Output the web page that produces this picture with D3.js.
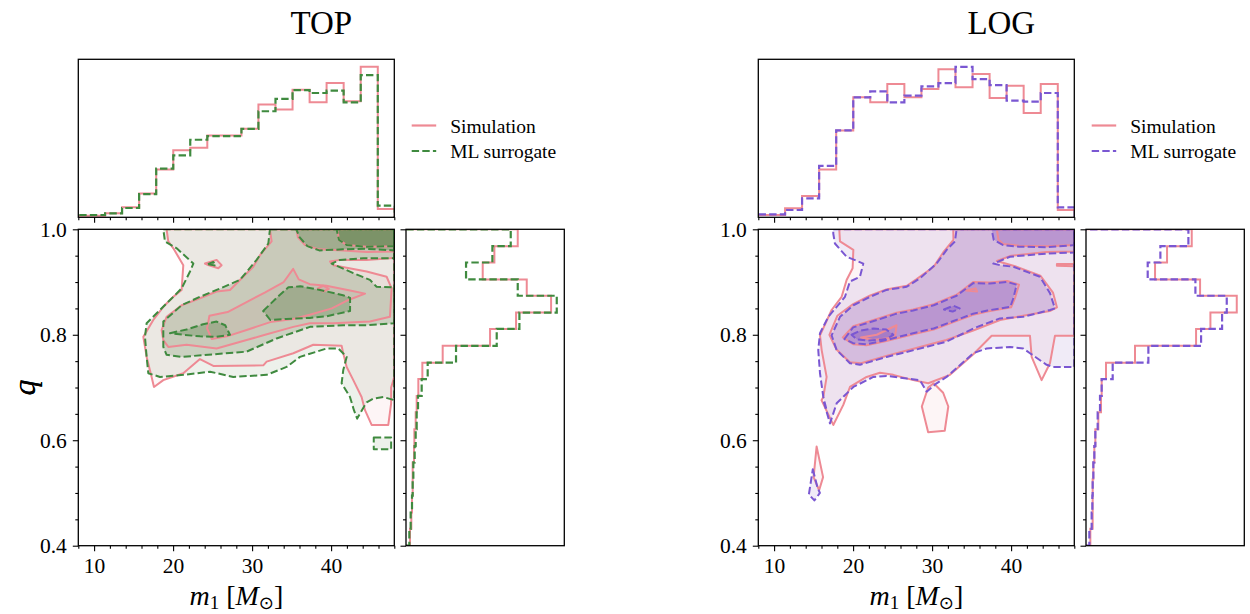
<!DOCTYPE html>
<html>
<head>
<meta charset="utf-8">
<script src="https://cdn.jsdelivr.net/npm/d3@7"></script>
<style>
  body { margin: 0; background: #fff; }
  svg { display: block; }
  text { font-family: "Liberation Serif", "Times New Roman", serif; fill: #000; }
</style>
</head>
<body>
<svg id="fig" width="1250" height="614"></svg>
<script>
// ---- binning ----
const m1Edges = [7.07, 9.23, 11.39, 13.54, 15.70, 17.86, 20.02, 22.17, 24.33, 26.49,
                 28.65, 30.80, 32.96, 35.12, 37.28, 39.43, 41.59, 43.75, 45.91, 48.06];
const qEdges = [0.400, 0.432, 0.463, 0.495, 0.526, 0.558, 0.589, 0.621, 0.653, 0.684,
                0.716, 0.747, 0.779, 0.811, 0.842, 0.874, 0.905, 0.937, 0.968, 1.000];

// ---- marginal histograms (counts per bin) ----
const topSimM1 = [5, 5, 12, 30, 72, 144, 202, 210, 247, 247, 267, 340, 325, 385, 347, 405, 350, 454, 25];
const topMlM1  = [7, 7, 12, 28, 70, 147, 187, 234, 245, 245, 267, 320, 357, 384, 375, 382, 347, 429, 35];
const topSimQ  = [12, 16, 18, 20, 20, 24, 25, 29, 32, 37, 49, 110, 252, 330, 435, 362, 230, 265, 335];
const topMlQ   = [10, 14, 18, 20, 22, 26, 29, 32, 36, 47, 65, 150, 272, 340, 452, 335, 180, 259, 314];

const logSimM1 = [7, 7, 27, 64, 144, 262, 362, 347, 402, 362, 387, 447, 392, 432, 360, 397, 315, 402, 22];
const logMlM1  = [9, 9, 22, 57, 155, 262, 362, 380, 347, 367, 395, 405, 454, 417, 399, 352, 349, 375, 30];
const logSimQ  = [13, 20, 20, 20, 22, 25, 28, 37, 45, 47, 60, 147, 330, 373, 452, 342, 207, 243, 317];
const logMlQ   = [10, 17, 19, 20, 22, 25, 28, 35, 42, 47, 80, 187, 345, 408, 422, 328, 185, 223, 307];

// ---- axis ticks ----
const m1Major = [10, 20, 30, 40];
const m1Minor = [8, 12, 14, 16, 18, 22, 24, 26, 28, 32, 34, 36, 38, 42, 44, 46, 48];
const qMajor = [0.4, 0.6, 0.8, 1.0];
const qMinor = [0.45, 0.5, 0.55, 0.65, 0.7, 0.75, 0.85, 0.9, 0.95];

// ---- joint density contours: [m1, q] vertices, one list of regions per level ----
const topSimLevels = [
  [
    [[19.18,1],[48,1],[48,0.72],[47.6,0.70],[47.6,0.67],[47.24,0.629],[45.13,0.629],[44.29,0.657],[43.86,0.682],
     [42.81,0.714],[41.97,0.739],[41.54,0.765],[41.33,0.779],[37.75,0.781],[35.22,0.765],[31.84,0.749],[31.42,0.742],
     [25.09,0.741],[23.40,0.754],[21.29,0.727],[18.76,0.714],[17.58,0.701],[17.28,0.720],[16.65,0.758],[16.23,0.796],
     [17.49,0.828],[18.76,0.853],[20.03,0.872],[21.08,0.885],[21.29,0.932],[20.03,0.964],[19.39,0.977]]
  ],
  [
    [[32.26,1],[48,1],[48,0.946],[47.45,0.945],[44.5,0.942],[41.12,0.942],[39.86,0.939],[40.28,0.932],[44.5,0.920],
     [47.03,0.910],[47.66,0.888],[47.45,0.834],[44.92,0.825],[40.28,0.822],[37.32,0.822],[35.22,0.815],[31.42,0.799],
     [29.31,0.790],[25.51,0.774],[21.71,0.781],[19.39,0.777],[18.76,0.790],[18.55,0.809],[19.18,0.834],[21.08,0.856],
     [23.40,0.869],[25.51,0.882],[27.2,0.885],[28.46,0.904],[30.15,0.929],[31.0,0.951],[32.47,0.977]],
    [[24.03,0.935],[25.51,0.942],[26.14,0.932],[25.72,0.926],[24.45,0.932]]
  ],
  [
    [[24.6,0.836],[26.9,0.843],[29.3,0.862],[31.6,0.880],[34.0,0.900],[35.2,0.925],[35.9,0.905],[37.3,0.896],[39.4,0.893],
     [42.4,0.884],[44.3,0.878],[42.2,0.866],[40.1,0.850],[37.3,0.838],[35.2,0.830],[32.3,0.824],[29.5,0.810],[26.8,0.797],
     [24.9,0.792],[24.3,0.812]],
    [[35.6,1],[48,1],[48,0.958],[44.5,0.957],[41.5,0.960],[38.5,0.962],[36.7,0.970],[35.8,0.985]]
  ],
  [
    [[38.3,0.888],[39.0,0.893],[39.7,0.887],[39.0,0.882]],
    [[40.8,1],[48,1],[48,0.968],[44.5,0.967],[42,0.970],[41.0,0.98]]
  ]
];

const topMlLevels = [
  [
    [[18.76,1],[48,1],[48,0.676],[46.61,0.682],[45.34,0.679],[44.5,0.672],[43.9,0.657],[43.3,0.641],[42.89,0.657],
     [42.39,0.682],[41.33,0.708],[41.54,0.733],[41.97,0.758],[40.91,0.774],[39.43,0.774],[36.06,0.758],[34.37,0.739],
     [31.84,0.724],[27.62,0.720],[24.67,0.730],[21.29,0.724],[18.34,0.720],[16.86,0.727],[16.65,0.758],[16.44,0.796],
     [16.65,0.822],[18.34,0.847],[20.03,0.872],[21.08,0.888],[22.14,0.920],[22.56,0.935],[20.45,0.964],[18.97,0.977]],
    [[45.4,0.605],[47.6,0.605],[47.6,0.583],[45.4,0.583]]
  ],
  [
    [[32.26,1],[48,1],[48,0.945],[44.08,0.945],[41.12,0.942],[40.07,0.935],[42.81,0.917],[44.92,0.904],[45.76,0.891],
     [48,0.890],[48,0.822],[44.5,0.818],[41.54,0.818],[37.32,0.815],[33.1,0.793],[29.31,0.768],[21.03,0.758],
     [19.18,0.762],[18.76,0.777],[18.76,0.825],[21.08,0.856],[23.40,0.872],[25.51,0.885],[28.46,0.904],[30.57,0.942],
     [32.05,0.973]],
    [[24.4,0.934],[25.1,0.938],[25.4,0.931]]
  ],
  [
    [[19.6,0.803],[21.7,0.81],[23.8,0.82],[25.5,0.825],[26.6,0.818],[27.2,0.80],[25.5,0.796],[23.4,0.797],[21.3,0.80]],
    [[31.4,0.845],[33.1,0.87],[34.6,0.89],[36.1,0.892],[38.6,0.885],[41.5,0.875],[42.4,0.87],[42.4,0.845],[39.4,0.835],
     [37.3,0.832],[34.3,0.83],[32.3,0.828]],
    [[35.6,1],[48,1],[48,0.96],[44.5,0.963],[41.5,0.962],[38.5,0.96],[37,0.968],[36,0.985]]
  ],
  [
    [[40.7,1],[48,1],[48,0.968],[44.5,0.967],[42,0.97],[41,0.98]]
  ]
];

const logSimLevels = [
  [
    [[18.25,1],[48,1],[48,0.798],[45.55,0.798],[44.92,0.746],[43.86,0.714],[42.6,0.758],[42.39,0.798],[37.54,0.798],
     [35.22,0.763],[32.26,0.724],[29.52,0.708],[27.62,0.714],[25.09,0.724],[23.40,0.728],[21.71,0.720],[19.6,0.701],
     [18.76,0.667],[17.49,0.629],[16.0,0.676],[16.23,0.682],[16.65,0.720],[16.02,0.771],[15.81,0.799],[17.28,0.847],
     [18.55,0.872],[19.18,0.904],[19.94,0.926],[20.03,0.961],[18.34,0.977]],
    [[28.7,0.664],[29.5,0.70],[30.2,0.708],[31.4,0.69],[32.05,0.664],[31.6,0.618],[29.5,0.615]],
    [[15.38,0.588],[16.2,0.53],[15.7,0.505],[15.0,0.53]]
  ],
  [
    [[32.68,1],[48,1],[48,0.958],[44.5,0.957],[40,0.95],[38.2,0.94],[40.5,0.93],[43.7,0.912],[45.3,0.88],[45.8,0.852],
     [44.9,0.845],[41.5,0.836],[38.6,0.828],[35.2,0.808],[31.8,0.79],[29.3,0.78],[24.2,0.76],[21.0,0.746],[19.6,0.748],
     [17.9,0.772],[17.0,0.80],[18.0,0.836],[20.0,0.858],[22.1,0.874],[24.2,0.886],[26.8,0.893],[28.0,0.905],[30.2,0.929],
     [31.4,0.956],[32.7,0.98]],
    [[45.8,0.934],[48,0.934],[48,0.930],[45.8,0.931]]
  ],
  [
    [[18.7,0.795],[20,0.816],[22.6,0.828],[25.5,0.842],[27.6,0.848],[30.2,0.858],[33.1,0.876],[35.2,0.900],[37.3,0.899],
     [39.5,0.902],[41.0,0.895],[40.5,0.87],[40.0,0.852],[37.0,0.844],[35.2,0.838],[32.7,0.824],[30.2,0.810],[27.6,0.801],
     [24.2,0.788],[21.7,0.780],[20.0,0.782]],
    [[38.2,1],[48,1],[48,0.970],[44.5,0.968],[41,0.969],[39,0.972],[38.4,0.98]]
  ],
  [
    [[21.0,0.795],[23.0,0.800],[25.5,0.818],[25.3,0.795],[22.5,0.790]],
    [[34.3,0.884],[35.5,0.888],[35.7,0.882]]
  ]
];

const logMlLevels = [
  [
    [[17.49,1],[48,1],[48,0.739],[45.34,0.739],[44.5,0.743],[42.39,0.765],[41.54,0.774],[39.86,0.777],[36.9,0.774],
     [35.22,0.765],[31.84,0.720],[30.57,0.708],[29.31,0.692],[28.46,0.714],[26.78,0.717],[24.24,0.722],[22.56,0.720],
     [20.03,0.701],[17.92,0.670],[17.07,0.632],[16.23,0.676],[16.65,0.657],[16.23,0.682],[15.81,0.727],[15.59,0.771],
     [15.81,0.803],[16.86,0.834],[17.92,0.853],[18.97,0.872],[19.6,0.901],[20.87,0.910],[21.29,0.935],[19.18,0.948],
     [17.7,0.973],[17.49,0.992]],
    [[14.9,0.545],[15.5,0.51],[15.8,0.50],[15.1,0.486],[14.4,0.497]]
  ],
  [
    [[33.1,1],[48,1],[48,0.956],[44.5,0.954],[39.86,0.948],[37.75,0.935],[38.59,0.932],[40.28,0.929],[43.65,0.910],
     [44.92,0.879],[45.55,0.850],[44.92,0.847],[41.54,0.834],[38.59,0.831],[35.22,0.812],[31.84,0.787],[29.31,0.777],
     [24.24,0.758],[20.87,0.743],[19.6,0.746],[17.92,0.771],[17.28,0.799],[18.34,0.834],[20.03,0.856],[22.14,0.872],
     [24.24,0.885],[26.78,0.891],[28.46,0.907],[30.57,0.935],[31.84,0.961],[32.89,0.977]]
  ],
  [
    [[18.9,0.792],[20,0.814],[22.6,0.826],[25.5,0.84],[27.6,0.846],[30.2,0.856],[33.1,0.874],[35.2,0.898],[37.3,0.897],
     [39.5,0.900],[40.7,0.895],[40.3,0.87],[39.9,0.853],[37.0,0.846],[35.2,0.840],[32.7,0.826],[30.2,0.812],[27.6,0.803],
     [24.2,0.790],[21.7,0.782],[20.0,0.784]],
    [[37.54,1],[48,1],[48,0.970],[44.5,0.966],[41,0.967],[39,0.97],[37.8,0.98]]
  ],
  [
    [[19.8,0.80],[20.9,0.808],[22.6,0.812],[24.2,0.81],[25.1,0.80],[24.2,0.792],[22.1,0.789],[20.5,0.791]],
    [[31.5,0.848],[32.7,0.855],[33.5,0.85],[32.6,0.844]]
  ]
];

// ---- styling ----
const simColor = "#ee8a94";
const simFill = "#e8909c";
const simOpacity = [0.09, 0.10, 0.12, 0.15];
const panels = [
  { title: "TOP", dx: 0, mlColor: "#3f8a3f", mlFill: "#4a7a3a", mlOpacity: [0.10, 0.20, 0.30, 0.42],
    simM1: topSimM1, mlM1: topMlM1, simQ: topSimQ, mlQ: topMlQ,
    simLevels: topSimLevels, mlLevels: topMlLevels },
  { title: "LOG", dx: 680, mlColor: "#7a57d2", mlFill: "#8658c0", mlOpacity: [0.12, 0.22, 0.32, 0.36],
    simM1: logSimM1, mlM1: logMlM1, simQ: logSimQ, mlQ: logMlQ,
    simLevels: logSimLevels, mlLevels: logMlLevels }
];

const svg = d3.select("#fig");
const dash = "7.4,3.2";

panels.forEach((p, pi) => {
  const g = svg.append("g");
  const x = d3.scaleLinear().domain([8, 48]).range([78.3 + p.dx, 394.3 + p.dx]);
  const y = d3.scaleLinear().domain([0.4, 1.0]).range([545.7, 229.3]);
  const hTopMax = d3.max(p.simM1.concat(p.mlM1)) * 1.05;
  const yTop = d3.scaleLinear().domain([0, hTopMax]).range([217.3, 59.3]);
  const hRightMax = d3.max(p.simQ.concat(p.mlQ)) * 1.05;
  const xRight = d3.scaleLinear().domain([0, hRightMax]).range([406 + p.dx, 564.3 + p.dx]);

  const defs = g.append("defs");
  const clip = (id, x0, y0, x1, y1) => {
    defs.append("clipPath").attr("id", id).append("rect")
      .attr("x", x0).attr("y", y0).attr("width", x1 - x0).attr("height", y1 - y0);
    return `url(#${id})`;
  };
  const clipMain = clip("cm" + pi, x.range()[0], y.range()[1], x.range()[1], y.range()[0]);
  const clipTop = clip("ct" + pi, x.range()[0], yTop.range()[1] - 2, x.range()[1], yTop.range()[0]);
  const clipRight = clip("cr" + pi, xRight.range()[0], y.range()[1], xRight.range()[1] + 2, y.range()[0]);

  // ---- joint contours ----
  const line = d3.line().x(d => x(d[0])).y(d => y(d[1])).curve(d3.curveLinearClosed);
  const cg = g.append("g").attr("clip-path", clipMain);
  const fillLevels = (levels, color, ops) => {
    levels.forEach((regs, li) => regs.forEach(r => {
      cg.append("path").attr("d", line(r)).attr("fill", color).attr("fill-opacity", ops[li]).attr("stroke", "none");
    }));
  };
  const strokeLevels = (levels, color, dashed) => {
    levels.forEach(regs => regs.forEach(r => {
      cg.append("path").attr("d", line(r)).attr("fill", "none").attr("stroke", color)
        .attr("stroke-width", 2).attr("stroke-linejoin", "round")
        .attr("stroke-dasharray", dashed ? dash : null);
    }));
  };
  fillLevels(p.simLevels, simFill, simOpacity);
  fillLevels(p.mlLevels, p.mlFill, p.mlOpacity);
  strokeLevels(p.simLevels, simColor, false);
  strokeLevels(p.mlLevels, p.mlColor, true);

  // ---- top marginal (m1) ----
  const stepTop = vals => {
    const pts = [[m1Edges[0], 0]];
    vals.forEach((v, i) => { pts.push([m1Edges[i], v]); pts.push([m1Edges[i + 1], v]); });
    pts.push([m1Edges[m1Edges.length - 1], 0]);
    return d3.line().x(d => x(d[0])).y(d => yTop(d[1]))(pts);
  };
  const tg = g.append("g").attr("clip-path", clipTop);
  tg.append("path").attr("d", stepTop(p.simM1)).attr("fill", "none").attr("stroke", simColor).attr("stroke-width", 2);
  tg.append("path").attr("d", stepTop(p.mlM1)).attr("fill", "none").attr("stroke", p.mlColor)
    .attr("stroke-width", 2.2).attr("stroke-dasharray", dash);

  // ---- right marginal (q), horizontal ----
  const stepRight = vals => {
    const pts = [[0, qEdges[0]]];
    vals.forEach((v, i) => { pts.push([v, qEdges[i]]); pts.push([v, qEdges[i + 1]]); });
    pts.push([0, qEdges[qEdges.length - 1]]);
    return d3.line().x(d => xRight(d[0])).y(d => y(d[1]))(pts);
  };
  const rg = g.append("g").attr("clip-path", clipRight);
  rg.append("path").attr("d", stepRight(p.simQ)).attr("fill", "none").attr("stroke", simColor).attr("stroke-width", 2);
  rg.append("path").attr("d", stepRight(p.mlQ)).attr("fill", "none").attr("stroke", p.mlColor)
    .attr("stroke-width", 2.2).attr("stroke-dasharray", dash);

  // ---- frames ----
  const frame = (x0, y0, x1, y1) => g.append("rect").attr("x", x0).attr("y", y0)
    .attr("width", x1 - x0).attr("height", y1 - y0).attr("fill", "none").attr("stroke", "#000").attr("stroke-width", 1.3);
  frame(x.range()[0], y.range()[1], x.range()[1], y.range()[0]);
  frame(x.range()[0], yTop.range()[1], x.range()[1], yTop.range()[0]);
  frame(xRight.range()[0], y.range()[1], xRight.range()[1], y.range()[0]);

  // ---- ticks ----
  const styleAxis = sel => {
    sel.select(".domain").remove();
    sel.selectAll(".tick line").attr("stroke", "#000").attr("stroke-width", 1.1);
    sel.selectAll("text").attr("font-size", 21.5).attr("font-family", "Liberation Serif, serif");
  };
  const addX = (ypos, labels) => {
    g.append("g").attr("transform", `translate(0,${ypos})`)
      .call(d3.axisBottom(x).tickValues(m1Minor).tickSize(3).tickFormat(""))
      .call(styleAxis);
    const a = g.append("g").attr("transform", `translate(0,${ypos})`)
      .call(d3.axisBottom(x).tickValues(m1Major).tickSize(5.5).tickPadding(5)
        .tickFormat(labels ? d3.format("d") : ""))
      .call(styleAxis);
    a.selectAll("text").attr("dy", "0.76em");
  };
  addX(y.range()[0], true);
  addX(yTop.range()[0], false);
  const addY = (xpos, labels) => {
    g.append("g").attr("transform", `translate(${xpos},0)`)
      .call(d3.axisLeft(y).tickValues(qMinor).tickSize(3).tickFormat(""))
      .call(styleAxis);
    g.append("g").attr("transform", `translate(${xpos},0)`)
      .call(d3.axisLeft(y).tickValues(qMajor).tickSize(5.5).tickPadding(6)
        .tickFormat(labels ? d3.format(".1f") : ""))
      .call(styleAxis);
  };
  addY(x.range()[0], true);
  addY(xRight.range()[0], false);

  // ---- labels ----
  g.append("text").attr("x", (x.range()[0] + xRight.range()[1]) / 2).attr("y", 33.5)
    .attr("text-anchor", "middle").attr("font-size", 33).text(p.title);

  const xl = g.append("text").attr("x", (x.range()[0] + x.range()[1]) / 2).attr("y", 605)
    .attr("text-anchor", "middle").attr("font-size", 28);
  xl.append("tspan").attr("font-style", "italic").text("m");
  xl.append("tspan").attr("font-size", 19).attr("dy", 4).text("1");
  xl.append("tspan").attr("dy", -4).text(" [");
  xl.append("tspan").attr("font-style", "italic").text("M");
  xl.append("tspan").attr("font-size", 18).attr("dy", 4).attr("font-family", "DejaVu Sans, sans-serif").text("\u2299");
  xl.append("tspan").attr("dy", -4).text("]");

  const yc = (y.range()[0] + y.range()[1]) / 2;
  g.append("text").attr("transform", `translate(35,${yc}) rotate(-90)`)
    .attr("text-anchor", "middle").attr("font-size", 32).attr("font-style", "italic").text("q");

  // ---- legend ----
  const lx = 411.7 + p.dx;
  const entries = [
    { label: "Simulation", color: simColor, dashed: false, y: 125.5 },
    { label: "ML surrogate", color: p.mlColor, dashed: true, y: 151 }
  ];
  entries.forEach(e => {
    g.append("line").attr("x1", lx).attr("x2", lx + 24.5).attr("y1", e.y).attr("y2", e.y)
      .attr("stroke", e.color).attr("stroke-width", 2.2).attr("stroke-dasharray", e.dashed ? dash : null);
    g.append("text").attr("x", lx + 38.5).attr("y", e.y + 7).attr("font-size", 19.5).text(e.label);
  });
});
</script>
</body>
</html>
